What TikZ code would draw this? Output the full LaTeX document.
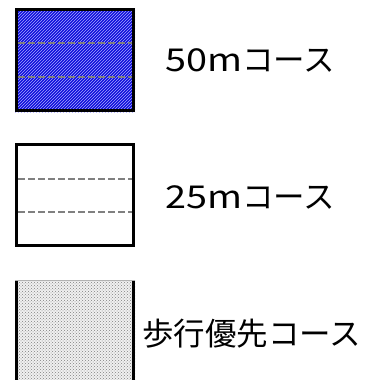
\documentclass[tikz,border=0pt]{standalone}
\usepackage{fontspec}
\setmainfont{Noto Sans CJK JP}
\usetikzlibrary{patterns}
\begin{document}
\begin{tikzpicture}[x=1pt,y=-1pt,
  frame/.style={line width=3pt,draw=black},
  lane/.style={draw=gray,line width=2.6pt,dash pattern=on 7pt off 3pt},
  label/.style={anchor=west,inner sep=0pt,font=\fontsize{31.5}{32}\selectfont}]
\useasboundingbox (0,0) rectangle (379,380);
% box 1: 50m
\fill[blue!85!black!95] (15,8) rectangle (135,112);
\fill[pattern=north east lines,pattern color=blue!35!white] (15,8) rectangle (135,112);
\draw[frame] (16.5,9.5) rectangle (133.5,110.5);
\coordinate (a1) at (18,43); \coordinate (b1) at (132,43);
\coordinate (a2) at (18,77); \coordinate (b2) at (132,77);
\draw[lane] (a1) -- (b1);
\draw[lane] (a2) -- (b2);
\node[label] (t1) at (165,60) {\scalebox{1.2}[1]{50m}コース};
% box 2: 25m
\draw[frame,fill=white] (16.5,144.5) rectangle (133.5,245.5);
\coordinate (c1) at (18,179); \coordinate (d1) at (132,179);
\coordinate (c2) at (18,212); \coordinate (d2) at (132,212);
\draw[lane] (c1) -- (d1);
\draw[lane] (c2) -- (d2);
\node[label] (t2) at (165,197) {\scalebox{1.2}[1]{25m}コース};
% box 3: walking
\fill[gray!12] (15,280) rectangle (135,380);
\fill[pattern=crosshatch dots,pattern color=gray] (15,280) rectangle (135,380);
\draw[gray!60,line width=0.8pt] (15,280) -- (135,280);
\draw[frame] (16.5,281) -- (16.5,381);
\draw[frame] (133.5,281) -- (133.5,381);
\node[label] (t3) at (142,334) {歩行優先コース};
\end{tikzpicture}
\end{document}
